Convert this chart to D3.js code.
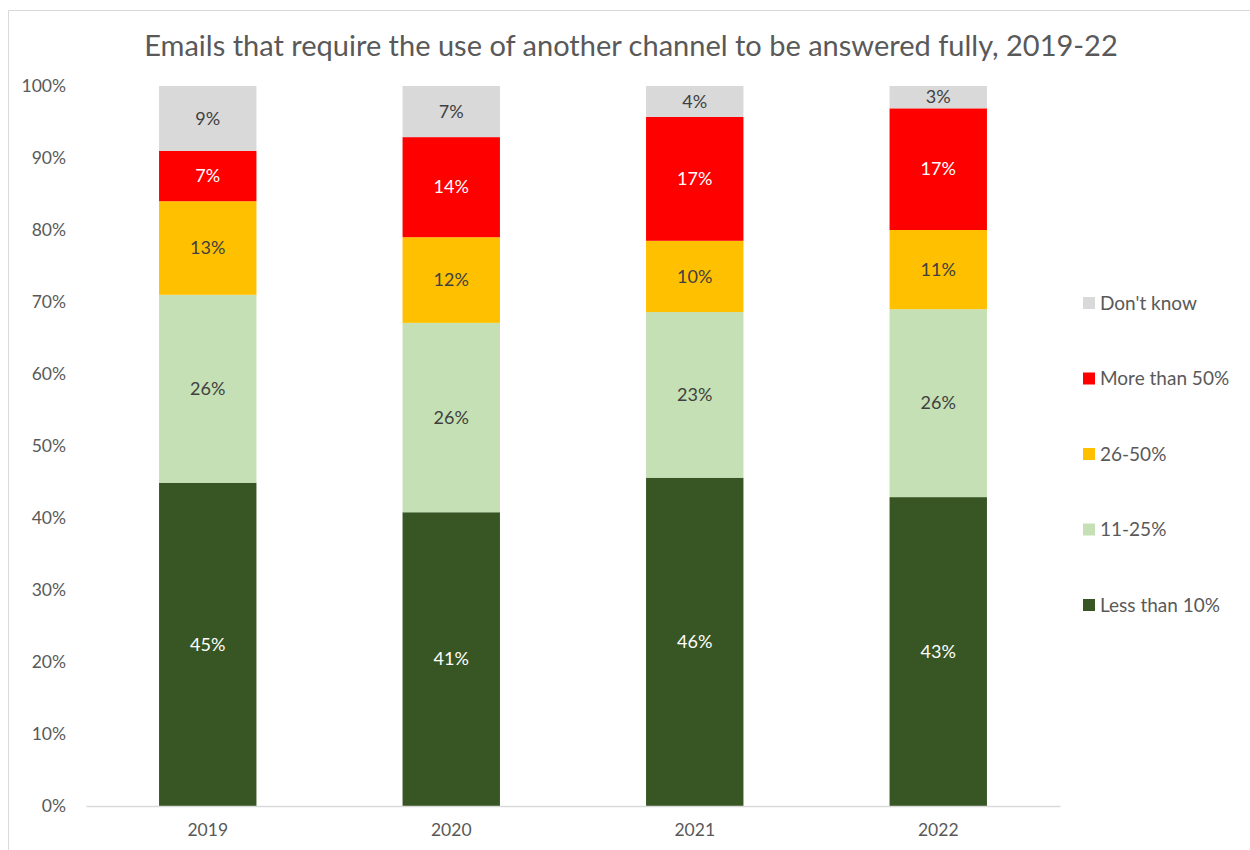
<!DOCTYPE html>
<html><head><meta charset="utf-8">
<script src="https://cdn.jsdelivr.net/npm/d3@7"></script>
<style>body{margin:0;background:#fff}svg{display:block}text{font-family:Lato,"Open Sans",sans-serif}</style>
</head><body>
<svg id="chart" width="1250" height="850"></svg>
<script>
const years = ["2019", "2020", "2021", "2022"];
const seriesNames = ["Less than 10%", "11-25%", "26-50%", "More than 50%", "Don't know"];
const lessThan10 = [44.9, 40.8, 45.6, 42.9];
const from11to25 = [26.1, 26.3, 23.0, 26.1];
const from26to50 = [13.0, 11.9, 9.9, 11.0];
const moreThan50 = [7.0, 13.9, 17.2, 16.9];
const dontKnow = [9.0, 7.1, 4.3, 3.1];
const yTicks = [0, 10, 20, 30, 40, 50, 60, 70, 80, 90, 100];
const colors = ["#375623", "#C5E0B4", "#FFC000", "#FF0000", "#D9D9D9"];
const labelColors = ["#ffffff", "#404040", "#404040", "#ffffff", "#404040"];
const title = "Emails that require the use of another channel to be answered fully, 2019-22";

const seriesValues = [lessThan10, from11to25, from26to50, moreThan50, dontKnow];
const rows = years.map((y, i) => {
  const r = {year: y};
  seriesNames.forEach((s, k) => r[s] = seriesValues[k][i]);
  return r;
});
const stacked = d3.stack().keys(seriesNames)(rows);

const svg = d3.select("#chart");
// chart frame
svg.append("path").attr("d", "M8.5,850 V10.5 H1250").attr("fill", "none").attr("stroke", "#D9D9D9").attr("stroke-width", 1);

const x = d3.scaleBand().domain(years).range([86, 1060]).paddingInner(0.6).paddingOuter(0.3);
const y = d3.scaleLinear().domain([0, 100]).range([806, 86]);

svg.append("text").attr("x", 631).attr("y", 56).attr("text-anchor", "middle")
  .attr("font-size", 29).attr("fill", "#595959").text(title);

// y axis labels
const yAxis = svg.append("g").attr("transform", "translate(66,0)")
  .call(d3.axisLeft(y).tickValues(yTicks).tickFormat(d => d + "%").tickSize(0).tickPadding(0));
yAxis.select(".domain").remove();
yAxis.selectAll("text").attr("font-size", 17.5).attr("fill", "#595959").attr("font-family", "Lato, 'Open Sans', sans-serif");

// bars
const g = svg.append("g");
stacked.forEach((layer, k) => {
  g.selectAll(null).data(layer).join("rect")
    .attr("x", d => x(d.data.year))
    .attr("width", x.bandwidth())
    .attr("y", d => y(d[1]))
    .attr("height", d => y(d[0]) - y(d[1]))
    .attr("fill", colors[k]);
  g.selectAll(null).data(layer).join("text")
    .attr("x", d => x(d.data.year) + x.bandwidth() / 2)
    .attr("y", d => (y(d[0]) + y(d[1])) / 2)
    .attr("dy", "0.35em").attr("text-anchor", "middle")
    .attr("font-size", 18).attr("fill", labelColors[k])
    .text(d => Math.round(d[1] - d[0]) + "%");
});

// x axis
const xAxis = svg.append("g").attr("transform", "translate(0,806)")
  .call(d3.axisBottom(x).tickSize(0).tickPadding(18));
xAxis.select(".domain").attr("stroke", "#D9D9D9").attr("stroke-width", 1.5);
xAxis.selectAll("text").attr("font-size", 17.5).attr("fill", "#595959").attr("font-family", "Lato, 'Open Sans', sans-serif");

// legend
const legendOrder = [4, 3, 2, 1, 0];
const leg = svg.append("g");
legendOrder.forEach((k, i) => {
  const cy = 303 + i * 75.5;
  leg.append("rect").attr("x", 1083).attr("y", cy - 6).attr("width", 12).attr("height", 12).attr("fill", colors[k]);
  leg.append("text").attr("x", 1100).attr("y", cy).attr("dy", "0.35em")
    .attr("font-size", 19).attr("fill", "#595959").text(seriesNames[k]);
});
</script>
</body></html>
